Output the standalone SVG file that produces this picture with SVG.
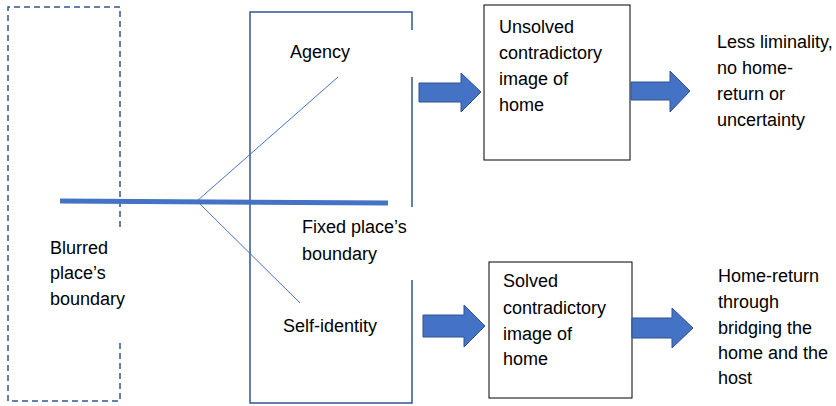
<svg xmlns="http://www.w3.org/2000/svg" width="836" height="406" viewBox="0 0 836 406">
<style>
text{font-family:"Liberation Sans",Arial,sans-serif;font-size:18px;fill:#000}
.frame{fill:none;stroke:#2F5597;stroke-width:1.5}
.dash{stroke-dasharray:6 4}
.box{fill:#fff;stroke:#000;stroke-width:1}
.arrow{fill:#4472C4;stroke:#2F528F;stroke-width:1}
.thin{stroke:#4472C4;stroke-width:1;fill:none}
.thick{stroke:#4472C4;stroke-width:5;fill:none}
</style>
<rect width="836" height="406" fill="#fff"/>
<g id="blurred">
<path class="frame dash" d="M120,227 V7 H8 V401 H120 V342"/>
<text x="50" y="254">Blurred</text>
<text x="50" y="279">place’s</text>
<text x="50" y="305">boundary</text>
</g>
<g id="fixed">
<path class="frame" d="M412,30 V12 H250 V403 H412 V280 M412,77 V207"/>
<text x="302" y="233">Fixed place’s</text>
<text x="302" y="260">boundary</text>
</g>
<g id="agency"><text x="290" y="58">Agency</text></g>
<g id="selfidentity"><text x="283" y="332">Self-identity</text></g>
<g id="unsolved">
<rect class="box" x="484" y="5" width="146" height="155"/>
<text x="499" y="33">Unsolved</text>
<text x="499" y="59">contradictory</text>
<text x="499" y="85">image of</text>
<text x="499" y="111">home</text>
</g>
<g id="solved">
<rect class="box" x="489" y="262" width="143" height="136"/>
<text x="503" y="287">Solved</text>
<text x="503" y="314">contradictory</text>
<text x="503" y="340">image of</text>
<text x="503" y="365">home</text>
</g>
<g id="less">
<text x="717" y="48">Less liminality,</text>
<text x="717" y="74">no home-</text>
<text x="717" y="100">return or</text>
<text x="717" y="126">uncertainty</text>
</g>
<g id="homereturn">
<text x="718" y="282">Home-return</text>
<text x="718" y="308">through</text>
<text x="718" y="334">bridging the</text>
<text x="718" y="359">home and the</text>
<text x="718" y="384">host</text>
</g>
<g id="connectors">
<line class="thick" x1="60" y1="201" x2="388" y2="203"/>
<line class="thin" x1="197" y1="201" x2="338" y2="77"/>
<line class="thin" x1="197" y1="201" x2="300" y2="303"/>
<polygon class="arrow" points="419,83 461,83 461,73 481,92 461,112 461,102 419,102"/>
<polygon class="arrow" points="631,82 670,82 670,71 690,91 670,112 670,100 631,100"/>
<polygon class="arrow" points="423,315 464,315 464,305 485,326 464,347 464,337 423,337"/>
<polygon class="arrow" points="632,318 672,318 672,308 693,328 672,348 672,338 632,338"/>
</g>
</svg>
